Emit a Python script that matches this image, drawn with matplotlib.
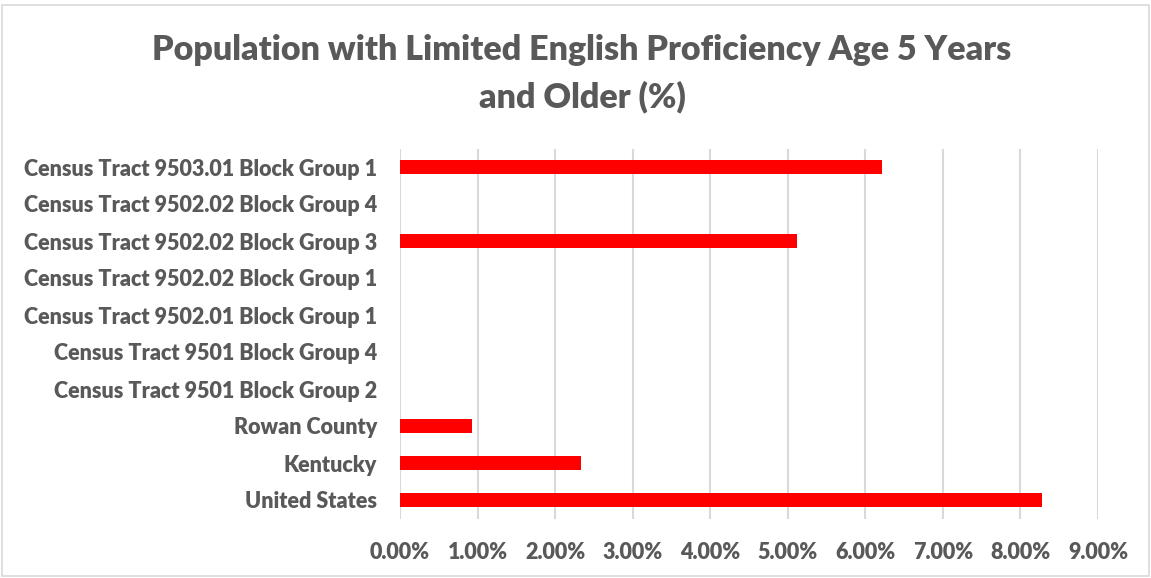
import matplotlib
matplotlib.use("Agg")
import matplotlib.pyplot as plt
from matplotlib.patches import Rectangle
from matplotlib.ticker import FuncFormatter

categories = [
    "United States",
    "Kentucky",
    "Rowan County",
    "Census Tract 9501 Block Group 2",
    "Census Tract 9501 Block Group 4",
    "Census Tract 9502.01 Block Group 1",
    "Census Tract 9502.02 Block Group 1",
    "Census Tract 9502.02 Block Group 3",
    "Census Tract 9502.02 Block Group 4",
    "Census Tract 9503.01 Block Group 1",
]
values = [8.28, 2.34, 0.93, 0.0, 0.0, 0.0, 0.0, 5.12, 0.0, 6.21]
x_ticks = [0, 1, 2, 3, 4, 5, 6, 7, 8, 9]

text_color = "#595959"
grid_color = "#d9d9d9"
font = "Lato"
weight = "heavy"

W, H = 1151, 578
fig = plt.figure(figsize=(W / 100, H / 100), dpi=100)
ax = fig.add_axes([400 / W, 1 - 518.5 / H, 698 / W, 370 / H])

ax.barh(range(len(categories)), values, height=0.36, color="#ff0000", zorder=3)
ax.set_xlim(0, 9)
ax.set_ylim(-0.5, len(categories) - 0.5)
ax.set_xticks(x_ticks)
ax.xaxis.set_major_formatter(FuncFormatter(lambda v, p: f"{v:.2f}%"))
ax.set_yticks(range(len(categories)))
ax.set_yticklabels(categories)

ax.grid(axis="x", color=grid_color, linewidth=1.5, zorder=0)
for s in ax.spines.values():
    s.set_visible(False)
ax.tick_params(axis="both", length=0, colors=text_color, labelsize=15.5)
ax.tick_params(axis="y", pad=16.5)
ax.tick_params(axis="x", pad=17)
for lbl in ax.get_xticklabels() + ax.get_yticklabels():
    lbl.set_fontfamily(font)
    lbl.set_fontweight(weight)

fig.text(582 / W, 1 - 50 / H, "Population with Limited English Proficiency Age 5 Years",
         ha="center", va="center", fontsize=24.5, fontweight=weight,
         color=text_color, family=font)
fig.text(582 / W, 1 - 97 / H, "and Older (%)",
         ha="center", va="center", fontsize=24.5, fontweight=weight,
         color=text_color, family=font)

fig.patches.append(Rectangle((2 / W, 2 / H), 1 - 4 / W, 1 - 7 / H,
                             transform=fig.transFigure, fill=False,
                             edgecolor="#d9d9d9", linewidth=1.2))

fig.savefig("out.png", dpi=100, facecolor="white")
